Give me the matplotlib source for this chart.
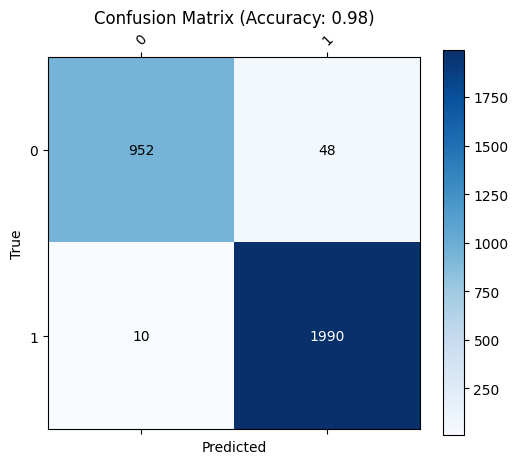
import numpy as np
import matplotlib.pyplot as plt

labels = ['0', '1']
cm = np.array([[952, 48],
               [10, 1990]])
acc = np.trace(cm) / cm.sum()

fig = plt.figure(figsize=(5.17, 4.64), dpi=100)
ax = fig.add_axes([0.0923, 0.0722, 0.721, 0.8034])
im = ax.matshow(cm, cmap='Blues')
cax = fig.add_axes([0.8575, 0.0603, 0.0395, 0.829])
fig.colorbar(im, cax=cax)

ax.set_xticks(range(len(labels)))
ax.set_yticks(range(len(labels)))
ax.set_xticklabels(labels, rotation=45)
ax.set_yticklabels(labels)
ax.set_xlabel('Predicted')
ax.set_ylabel('True')
ax.set_title('Confusion Matrix (Accuracy: {:.2f})'.format(acc))

thresh = cm.max() / 2
for i in range(cm.shape[0]):
    for j in range(cm.shape[1]):
        ax.text(j, i, str(cm[i, j]), ha='center', va='center',
                color='white' if cm[i, j] > thresh else 'black')

fig.savefig('out.png')
